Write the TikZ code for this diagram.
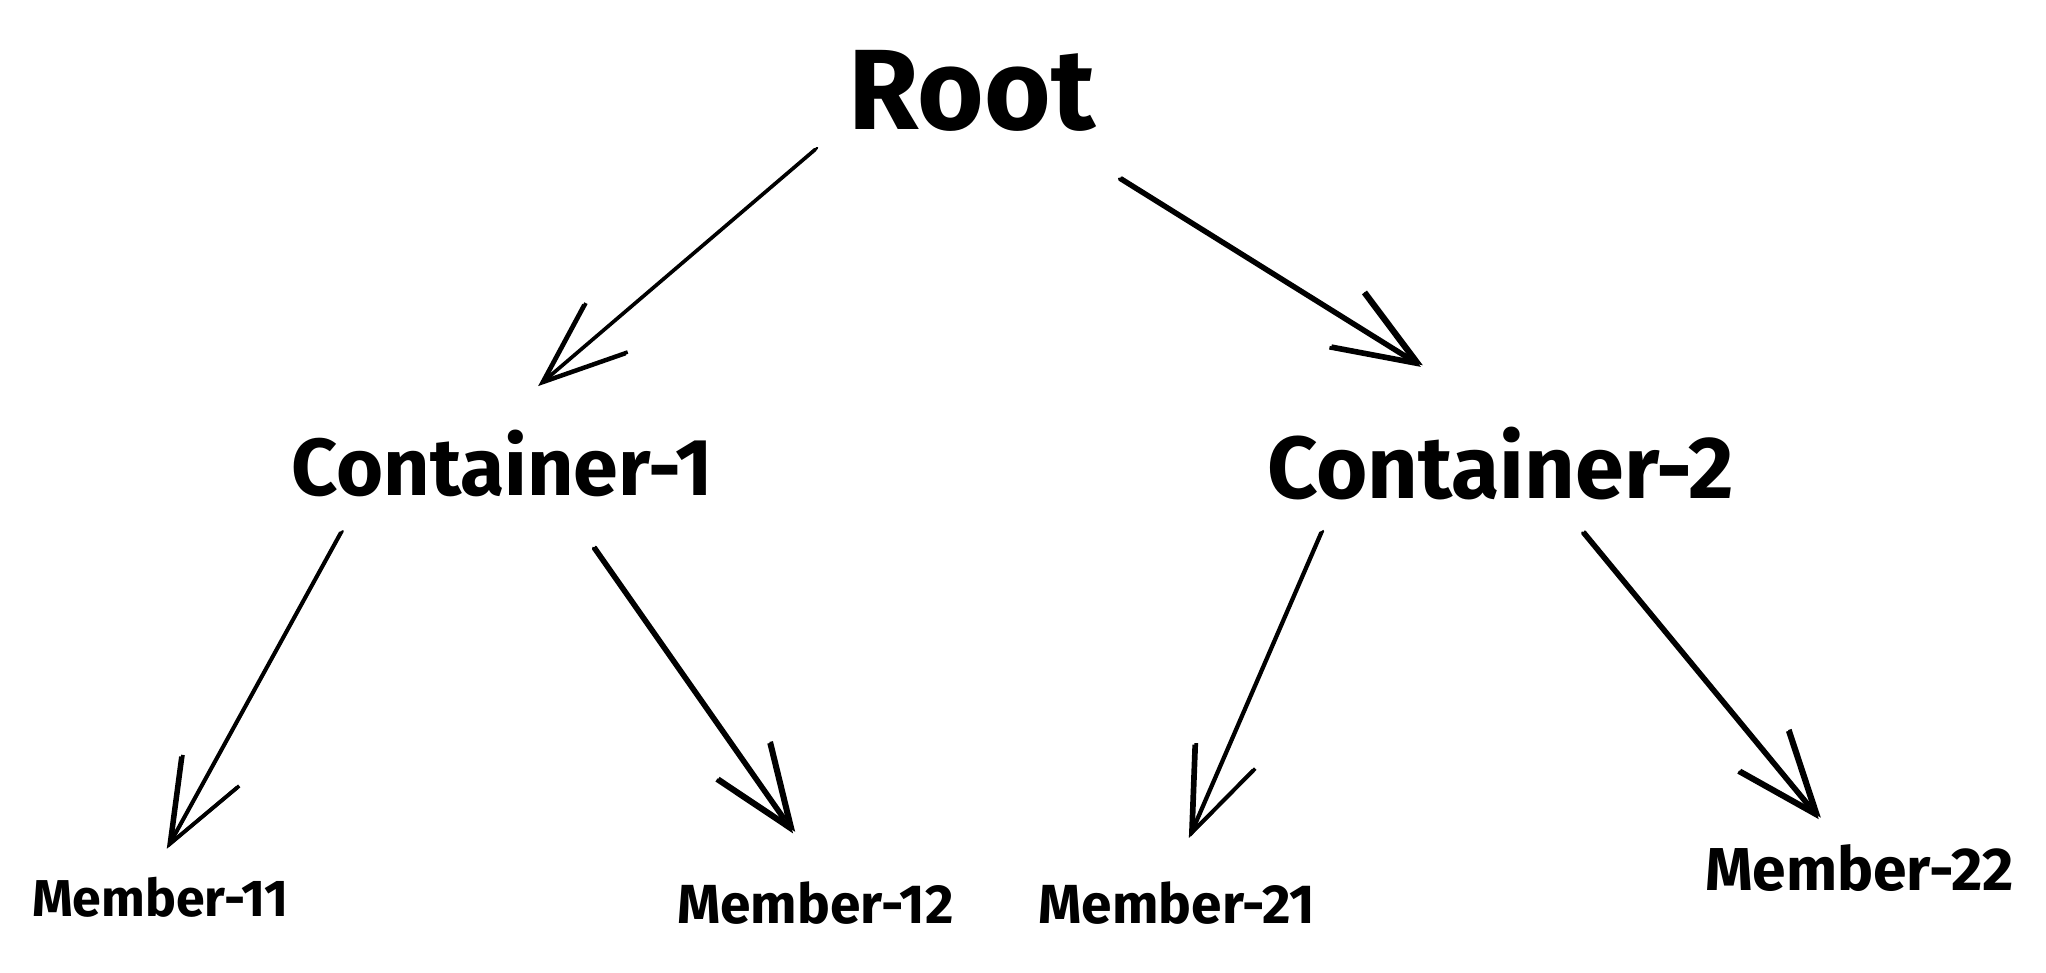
\documentclass[tikz,border=0pt]{standalone}
\usepackage{fontspec}
\setmainfont{Fira Sans}
\usetikzlibrary{arrows.meta,calc}
\begin{document}
\begin{tikzpicture}[x=0.01cm,y=-0.01cm,
  lbl/.style={inner sep=0pt, text=black},
  rootlbl/.style={lbl, font=\bfseries\fontsize{24.9}{30}\selectfont},
  contlbl/.style={lbl, minimum height=0.7cm},
  memlbl/.style={lbl, minimum height=0.56cm},
  conn/.style={line width=0.8pt, line cap=round, line join=round,
    -{Straight Barb[length=18pt,width=14pt,line width=0.8pt]},
    postaction={draw, transform canvas={shift={(0.45pt,0.35pt)}}, line width=0.5pt}},
]
\useasboundingbox (0,0) rectangle (1568,745);
\node[rootlbl, minimum width=2.3cm, minimum height=0.8cm] (root) at (745,70) {Root};
\node[contlbl, minimum width=3.5cm, font=\bfseries\fontsize{17.6}{21}\selectfont] (c1) at (385,355) {Container-1};
\node[contlbl, minimum width=3.7cm, font=\bfseries\fontsize{19.2}{23}\selectfont] (c2) at (1150,355) {Container-2};
\node[memlbl, font=\bfseries\fontsize{11.3}{14}\selectfont] (m11) at (123,688) {Member-11};
\node[memlbl, font=\bfseries\fontsize{12}{14}\selectfont] (m12) at (625,692) {Member-12};
\node[memlbl, font=\bfseries\fontsize{12}{14}\selectfont] (m21) at (902,692) {Member-21};
\node[memlbl, minimum width=2.4cm, font=\bfseries\fontsize{13.2}{16}\selectfont] (m22) at (1425,665) {Member-22};

\draw[conn, shorten <=0.06cm, shorten >=0.36cm] (root.south west) -- (c1.north);
\draw[conn, shorten <=0.5cm, shorten >=0.72cm] (root.-30) -- (c2.north);
\draw[conn, shorten <=0.2cm, shorten >=0.1cm] ($(c1.south)!0.65!(c1.south west)$) -- (m11.north);
\draw[conn, shorten <=0.36cm, shorten >=0.3cm] ($(c1.south)!0.28!(c1.south east)$) -- (m12.north);
\draw[conn, shorten <=0.19cm, shorten >=0.23cm] ($(c2.south)!0.7!(c2.south west)$) -- (m21.north);
\draw[conn, shorten <=0.23cm, shorten >=0.11cm] ($(c2.south)!0.26!(c2.south east)$) -- ($(m22.north)!0.2!(m22.north west)$);
\end{tikzpicture}
\end{document}
